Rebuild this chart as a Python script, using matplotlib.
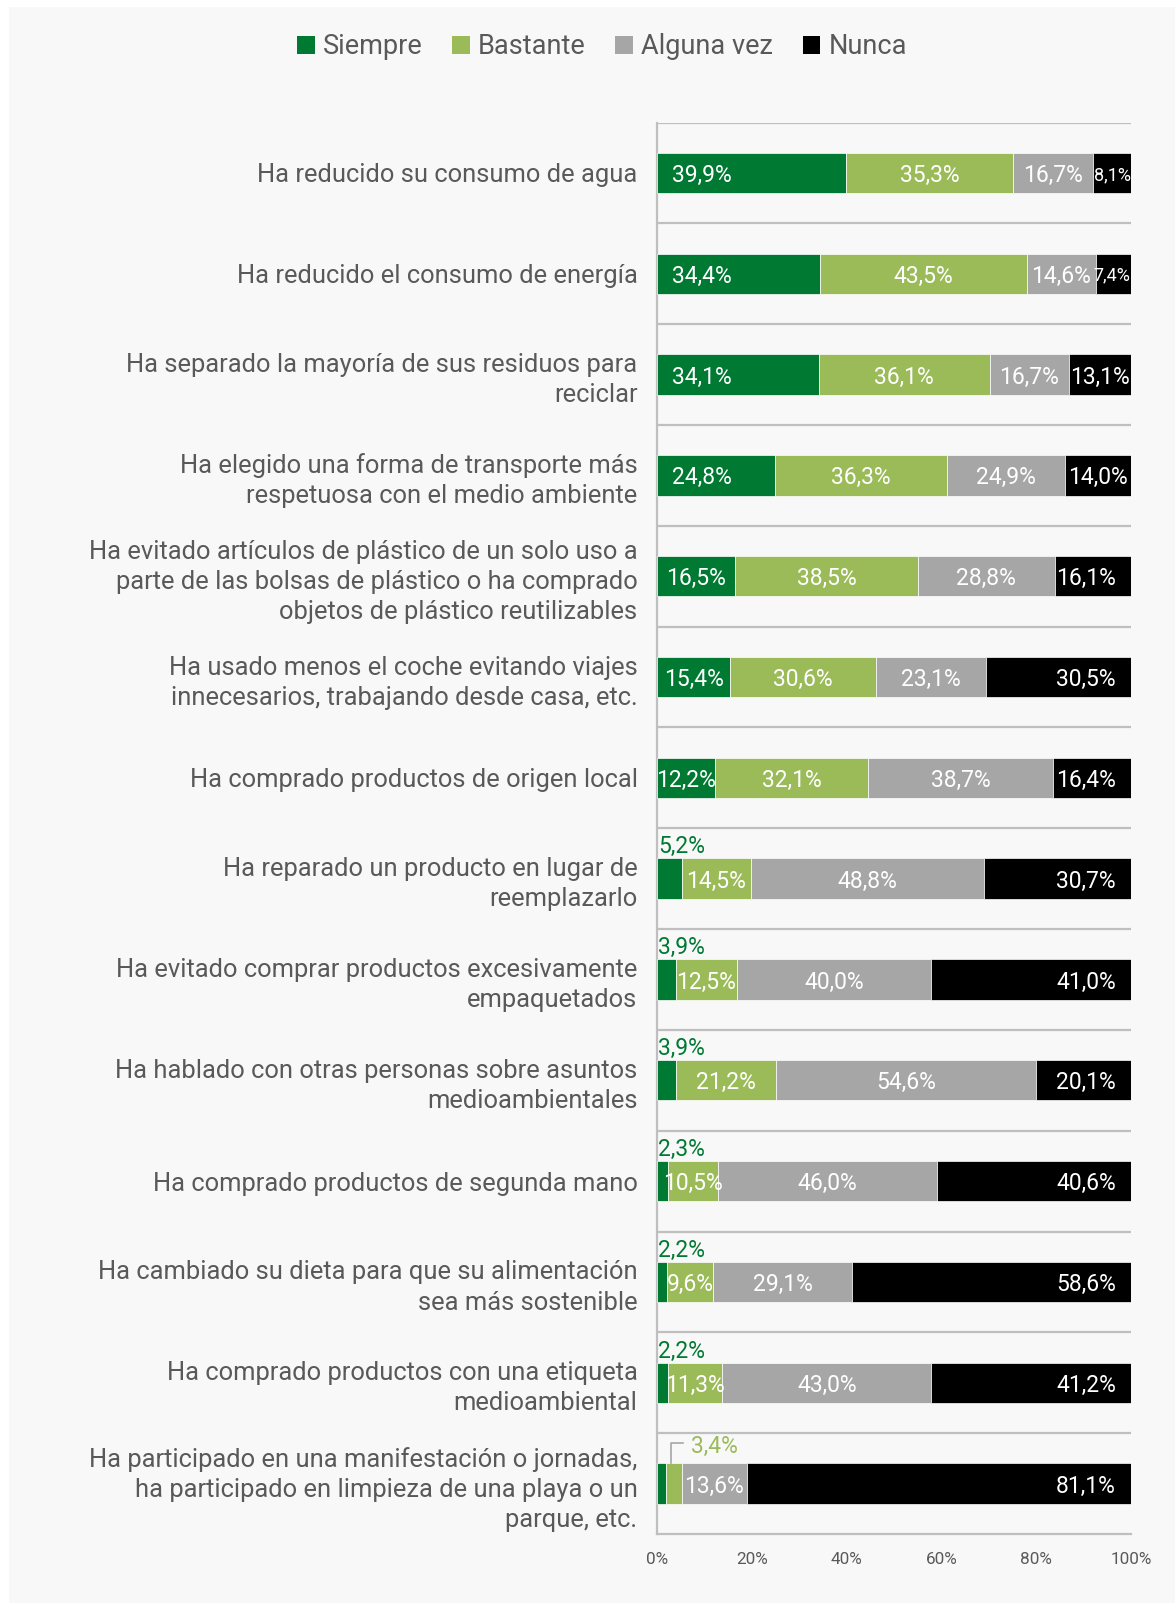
import matplotlib
matplotlib.use("Agg")
import matplotlib.pyplot as plt
from matplotlib.patches import Patch, Rectangle
import numpy as np

plt.rcParams['font.family'] = ['Roboto', 'DejaVu Sans']

categories = [
    "Ha reducido su consumo de agua",
    "Ha reducido el consumo de energía",
    "Ha separado la mayoría de sus residuos para\nreciclar",
    "Ha elegido una forma de transporte más\nrespetuosa con el medio ambiente",
    "Ha evitado artículos de plástico de un solo uso a\nparte de las bolsas de plástico o ha comprado\nobjetos de plástico reutilizables",
    "Ha usado menos el coche evitando viajes\ninnecesarios, trabajando desde casa, etc.",
    "Ha comprado productos de origen local",
    "Ha reparado un producto en lugar de\nreemplazarlo",
    "Ha evitado comprar productos excesivamente\nempaquetados",
    "Ha hablado con otras personas sobre asuntos\nmedioambientales",
    "Ha comprado productos de segunda mano",
    "Ha cambiado su dieta para que su alimentación\nsea más sostenible",
    "Ha comprado productos con una etiqueta\nmedioambiental",
    "Ha participado en una manifestación o jornadas,\nha participado en limpieza de una playa o un\nparque, etc.",
]
series_names = ["Siempre", "Bastante", "Alguna vez", "Nunca"]
siempre = [39.9, 34.4, 34.1, 24.8, 16.5, 15.4, 12.2, 5.2, 3.9, 3.9, 2.3, 2.2, 2.2, 1.9]
bastante = [35.3, 43.5, 36.1, 36.3, 38.5, 30.6, 32.1, 14.5, 12.5, 21.2, 10.5, 9.6, 11.3, 3.4]
alguna = [16.7, 14.6, 16.7, 24.9, 28.8, 23.1, 38.7, 48.8, 40.0, 54.6, 46.0, 29.1, 43.0, 13.6]
nunca = [8.1, 7.4, 13.1, 14.0, 16.1, 30.5, 16.4, 30.7, 41.0, 20.1, 40.6, 58.6, 41.2, 81.1]
xtick_labels = ["0%", "20%", "40%", "60%", "80%", "100%"]

colors = ["#007A33", "#9BBB59", "#A6A6A6", "#000000"]
text_gray = "#595959"
grid_gray = "#BFBFBF"

W, H = 1175, 1603
fig = plt.figure(figsize=(W / 100, H / 100), dpi=100)
fig.patch.set_facecolor("white")
fig.patches.append(Rectangle((9 / W, 0), 1 - 9 / W, 1 - 7 / H, transform=fig.transFigure,
                             facecolor="#F8F8F8", edgecolor="none", zorder=-10))

ax = fig.add_axes([657 / W, 69 / H, 474 / W, 1411.5 / H])
ax.set_facecolor("none")

data = np.array([siempre, bastante, alguna, nunca], dtype=float)
totals = data.sum(axis=0)
norm = data / totals * 100
n = len(categories)
y = np.arange(n)
bar_h = 0.4

left = np.zeros(n)
for k in range(4):
    ax.barh(y, norm[k], left=left, height=bar_h, color=colors[k],
            edgecolor="white", linewidth=0.5, zorder=3)
    left = left + norm[k]

def fmt(v):
    return f"{v:.1f}".replace(".", ",") + "%"

lab_fs = 16.5
VA = "center_baseline"
starts = np.vstack([np.zeros(n), np.cumsum(norm, axis=0)[:-1]])
for i in range(n):
    # Siempre
    v = data[0, i]
    s, w = starts[0, i], norm[0, i]
    if v >= 20:
        ax.text(3.2, i, fmt(v), ha="left", va=VA, color="white", fontsize=lab_fs, zorder=5)
    elif v >= 10:
        ax.text(s + w / 2, i, fmt(v), ha="center", va=VA, color="white", fontsize=lab_fs, zorder=5)
    elif v >= 2:
        ax.text(0.3, i - 0.34, fmt(v), ha="left", va=VA, color=colors[0], fontsize=lab_fs, zorder=5)
    # Bastante
    v = data[1, i]
    s, w = starts[1, i], norm[1, i]
    if v >= 5:
        ax.text(s + w / 2, i, fmt(v), ha="center", va=VA, color="white", fontsize=lab_fs, zorder=5)
    else:
        xl = s + w * 0.3
        ax.plot([xl, xl, 5.5], [i - bar_h / 2, i - 0.4, i - 0.4], color="#A6A6A6", lw=1.2, zorder=5,
                clip_on=False)
        ax.text(7.2, i - 0.39, fmt(v), ha="left", va=VA, color=colors[1], fontsize=lab_fs, zorder=5)
    # Alguna vez
    v = data[2, i]
    s, w = starts[2, i], norm[2, i]
    ax.text(s + w / 2, i, fmt(v), ha="center", va=VA, color="white", fontsize=lab_fs, zorder=5)
    # Nunca
    v = data[3, i]
    s, w = starts[3, i], norm[3, i]
    if v >= 15:
        ax.text(96.8, i, fmt(v), ha="right", va=VA, color="white", fontsize=lab_fs, zorder=5)
    elif v >= 10:
        ax.text(s + w / 2, i, fmt(v), ha="center", va=VA, color="white", fontsize=lab_fs, zorder=5)
    else:
        ax.text(99.9, i, fmt(v), ha="right", va=VA, color="white", fontsize=13, zorder=5)

ax.set_xlim(0, 100)
ax.set_ylim(n - 0.5, -0.5)
for b in np.arange(-0.5, n - 0.5, 1.0):
    ax.axhline(b, color=grid_gray, lw=1.6, zorder=1)

ax.set_yticks(y)
ax.set_yticklabels(categories, fontsize=18.4, color=text_gray, linespacing=1.32)
ax.tick_params(axis="y", length=0, pad=14)
ax.set_xticks(np.linspace(0, 100, len(xtick_labels)))
ax.set_xticklabels(xtick_labels, fontsize=12.3, color=text_gray)
ax.tick_params(axis="x", length=0, pad=13)

for sp in ["top", "right"]:
    ax.spines[sp].set_visible(False)
for sp in ["left", "bottom"]:
    ax.spines[sp].set_color(grid_gray)
    ax.spines[sp].set_linewidth(1.6)

handles = [Patch(facecolor=c, edgecolor="none") for c in colors]
fig.legend(handles, series_names, loc="center", bbox_to_anchor=(602 / W, 1 - 47 / H), ncol=4,
           frameon=False, fontsize=19.5, labelcolor=text_gray, handlelength=0.65, handleheight=0.65,
           handletextpad=0.3, columnspacing=1.1)

fig.savefig("out.png", dpi=100)
